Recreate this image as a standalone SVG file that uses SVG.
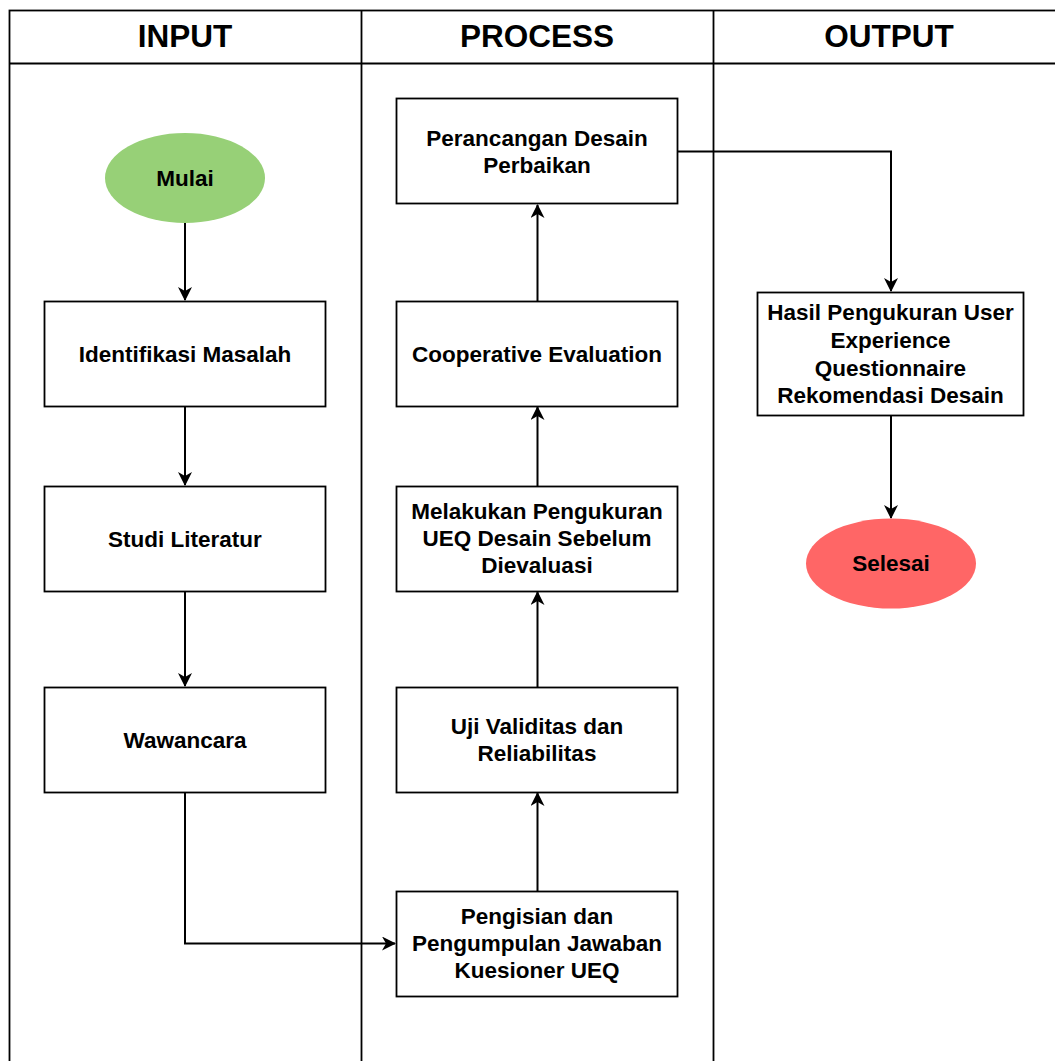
<svg xmlns="http://www.w3.org/2000/svg" width="1055" height="1061" viewBox="0 0 1055 1061">
<defs>
<marker id="arr" viewBox="0 0 14 14" refX="13" refY="7" markerWidth="14" markerHeight="14" markerUnits="userSpaceOnUse" orient="auto">
<path d="M0,0 L14,7 L0,14 L4,7 Z" fill="#000"/>
</marker>
<style>
.lane{fill:#fff;stroke:#000;stroke-width:1.8}
.box{fill:#fff;stroke:#000;stroke-width:1.8}
.hd{font-family:"Liberation Sans",Arial,sans-serif;font-weight:bold;font-size:31.5px;text-anchor:middle;fill:#000}
.t{font-family:"Liberation Sans",Arial,sans-serif;font-weight:bold;font-size:22.5px;text-anchor:middle;fill:#000}
.c{fill:none;stroke:#000;stroke-width:2;marker-end:url(#arr)}
</style>
</defs>
<rect width="1055" height="1061" fill="#fff"/>
<g id="lanes">
<rect class="lane" x="9.5" y="10.5" width="1060" height="1070"/>
<line x1="9.5" y1="63.5" x2="1060" y2="63.5" stroke="#000" stroke-width="1.8"/>
<line x1="361.5" y1="10.5" x2="361.5" y2="1070" stroke="#000" stroke-width="1.8"/>
<line x1="713.5" y1="10.5" x2="713.5" y2="1070" stroke="#000" stroke-width="1.8"/>
<text class="hd" x="185" y="47">INPUT</text>
<text class="hd" x="537" y="47">PROCESS</text>
<text class="hd" x="889" y="47">OUTPUT</text>
</g>
<g id="connectors">
<path class="c" d="M185,223 L185,300"/>
<path class="c" d="M185,406 L185,485"/>
<path class="c" d="M185,591 L185,686"/>
<path class="c" d="M185,792 L185,943.5 L395,943.5"/>
<path class="c" d="M537.5,891 L537.5,793"/>
<path class="c" d="M537.5,687 L537.5,592"/>
<path class="c" d="M537.5,486 L537.5,407"/>
<path class="c" d="M537.5,301 L537.5,205"/>
<path class="c" d="M678,151.5 L891,151.5 L891,291"/>
<path class="c" d="M891,416 L891,518"/>
</g>
<g id="mulai">
<ellipse cx="185" cy="178" rx="80" ry="45" fill="#97D077"/>
<text class="t" x="185" y="186">Mulai</text>
</g>
<g id="identifikasi">
<rect class="box" x="44.5" y="301.5" width="281" height="105"/>
<text class="t" x="185" y="362">Identifikasi Masalah</text>
</g>
<g id="studi">
<rect class="box" x="44.5" y="486.5" width="281" height="105"/>
<text class="t" x="185" y="547">Studi Literatur</text>
</g>
<g id="wawancara">
<rect class="box" x="44.5" y="687.5" width="281" height="105"/>
<text class="t" x="185" y="748">Wawancara</text>
</g>
<g id="pengisian">
<rect class="box" x="396.5" y="891.5" width="281" height="105"/>
<text class="t" x="537" y="924">Pengisian dan</text>
<text class="t" x="537" y="951">Pengumpulan Jawaban</text>
<text class="t" x="537" y="978">Kuesioner UEQ</text>
</g>
<g id="uji">
<rect class="box" x="396.5" y="687.5" width="281" height="105"/>
<text class="t" x="537" y="734">Uji Validitas dan</text>
<text class="t" x="537" y="761">Reliabilitas</text>
</g>
<g id="melakukan">
<rect class="box" x="396.5" y="486.5" width="281" height="105"/>
<text class="t" x="537" y="519">Melakukan Pengukuran</text>
<text class="t" x="537" y="546">UEQ Desain Sebelum</text>
<text class="t" x="537" y="573">Dievaluasi</text>
</g>
<g id="cooperative">
<rect class="box" x="396.5" y="301.5" width="281" height="105"/>
<text class="t" x="537" y="362">Cooperative Evaluation</text>
</g>
<g id="perancangan">
<rect class="box" x="396.5" y="98.5" width="281" height="105"/>
<text class="t" x="537" y="146">Perancangan Desain</text>
<text class="t" x="537" y="173">Perbaikan</text>
</g>
<g id="hasil">
<rect class="box" x="757.5" y="292.5" width="266" height="123"/>
<text class="t" x="890.5" y="320">Hasil Pengukuran User</text>
<text class="t" x="890.5" y="348">Experience</text>
<text class="t" x="890.5" y="376">Questionnaire</text>
<text class="t" x="890.5" y="403">Rekomendasi Desain</text>
</g>
<g id="selesai">
<ellipse cx="891" cy="563.5" rx="85" ry="45" fill="#FF6666"/>
<text class="t" x="891" y="571">Selesai</text>
</g>
</svg>
